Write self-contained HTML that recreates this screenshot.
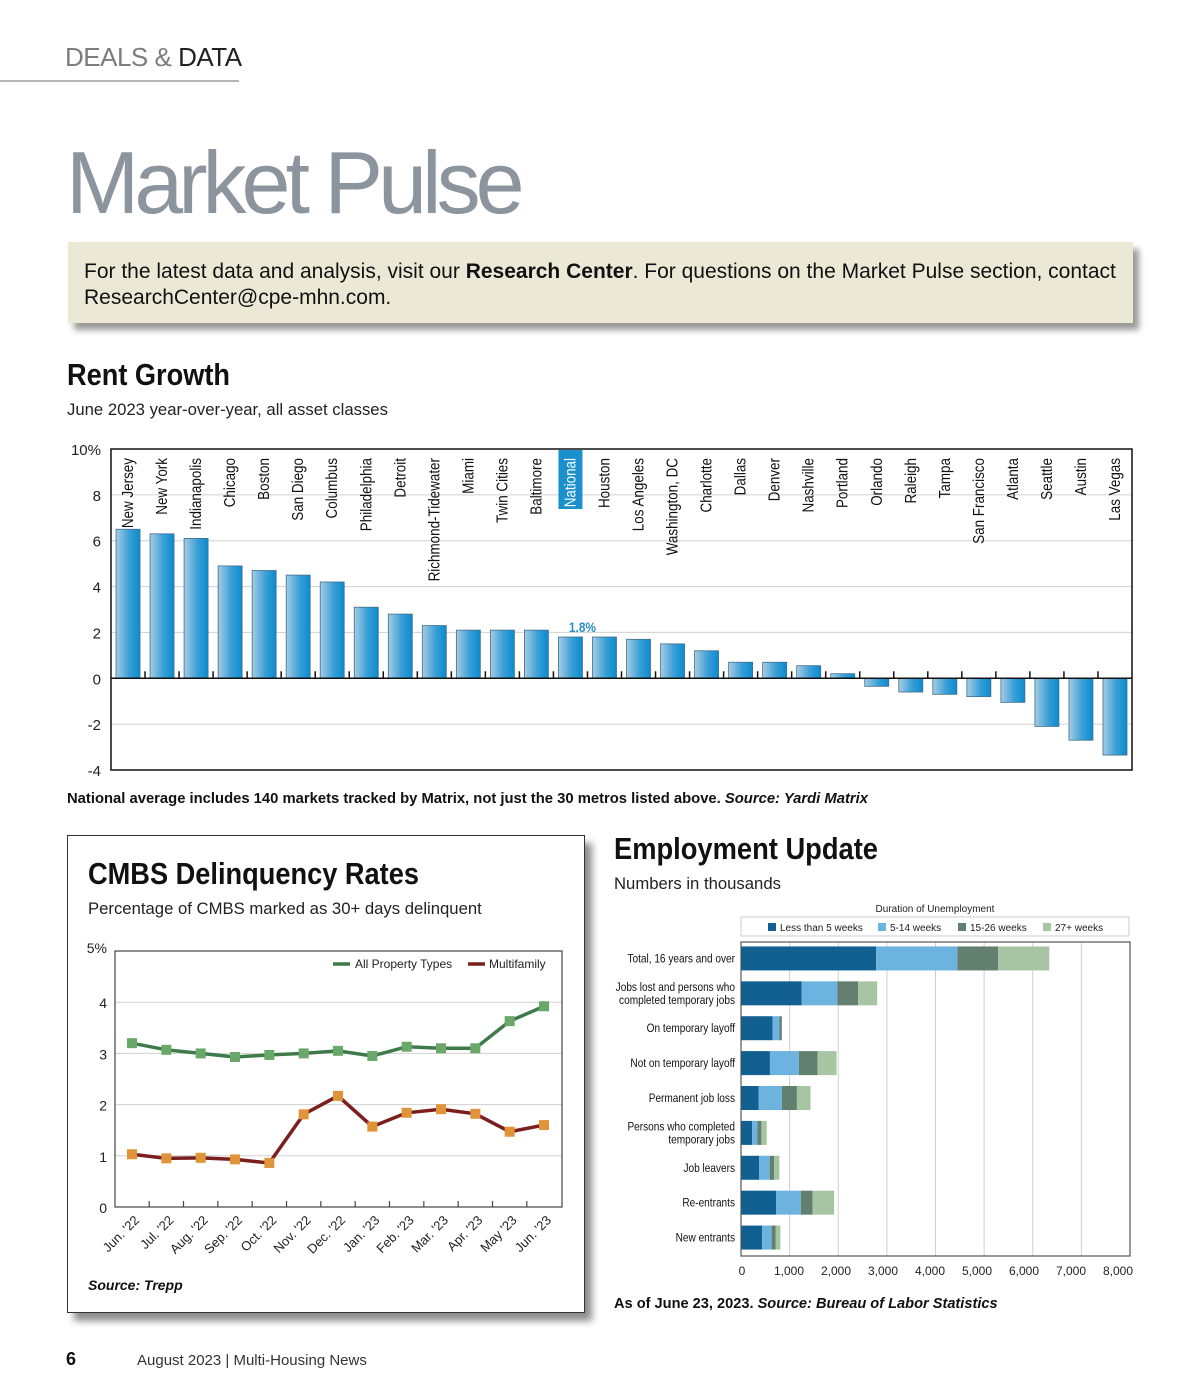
<!DOCTYPE html>
<html><head><meta charset="utf-8">
<style>
html,body{margin:0;padding:0;background:#fff;}
body{width:1200px;height:1400px;overflow:hidden;position:relative;font-family:"Liberation Sans",sans-serif;}
.abs{position:absolute;}
</style></head>
<body>
<div class="abs" style="left:65px;top:42px;font-size:26px;color:#7d7d7d;letter-spacing:-0.5px;">DEALS &amp; <span style="color:#222">DATA</span></div>
<div class="abs" style="left:0;top:80px;width:239px;height:2px;background:#b5b5b5;"></div>
<div class="abs" style="left:66px;top:132px;font-size:88px;color:#8c949e;letter-spacing:-5px;">Market Pulse</div>
<div class="abs" style="left:68px;top:242px;width:1065px;height:81px;background:#ebe9d6;box-shadow:6px 7px 6px #9a9a9a;"></div>
<div class="abs" style="left:84px;top:259px;width:1049px;font-size:21px;line-height:26px;color:#111;white-space:nowrap;">For the latest data and analysis, visit our <b>Research Center</b>. For questions on the Market Pulse section, contact<br>ResearchCenter@cpe-mhn.com.</div>

<div class="abs" style="left:67px;top:835px;width:516px;height:476px;border:1px solid #333;box-shadow:7px 8px 7px #8d8d8d;background:#fff;"></div>

<svg class="abs" style="left:0;top:0" width="1200" height="1400">
<defs>
<linearGradient id="barg" x1="0" x2="1" y1="0" y2="0"><stop offset="0" stop-color="#a8cce4"/><stop offset="0.55" stop-color="#3a9fd6"/><stop offset="1" stop-color="#0a8bcf"/></linearGradient>
</defs>
<text x="67" y="385" font-weight="bold" font-size="31" fill="#111" textLength="163" lengthAdjust="spacingAndGlyphs" font-family="Liberation Sans,sans-serif">Rent Growth</text>
<text x="67" y="415" font-size="16.7" fill="#222" font-family="Liberation Sans,sans-serif">June 2023 year-over-year, all asset classes</text>
<g id="rent"></g>
<text x="67" y="803" font-size="14.8" font-weight="bold" fill="#111" font-family="Liberation Sans,sans-serif">National average includes 140 markets tracked by Matrix, not just the 30 metros listed above. <tspan font-style="italic">Source: Yardi Matrix</tspan></text>

<text x="88" y="884" font-weight="bold" font-size="31" fill="#111" textLength="331" lengthAdjust="spacingAndGlyphs" font-family="Liberation Sans,sans-serif">CMBS Delinquency Rates</text>
<text x="88" y="914" font-size="16.7" fill="#222" font-family="Liberation Sans,sans-serif">Percentage of CMBS marked as 30+ days delinquent</text>
<g id="cmbs"></g>
<text x="88" y="1290" font-size="14" font-weight="bold" font-style="italic" fill="#111" font-family="Liberation Sans,sans-serif">Source: Trepp</text>

<text x="614" y="859" font-weight="bold" font-size="31" fill="#111" textLength="264" lengthAdjust="spacingAndGlyphs" font-family="Liberation Sans,sans-serif">Employment Update</text>
<text x="614" y="889" font-size="16.7" fill="#222" font-family="Liberation Sans,sans-serif">Numbers in thousands</text>
<g id="emp"></g>
<text x="614" y="1308" font-size="14.6" font-weight="bold" fill="#111" font-family="Liberation Sans,sans-serif">As of June 23, 2023. <tspan font-style="italic">Source: Bureau of Labor Statistics</tspan></text>

<text x="66" y="1365" font-size="18" font-weight="bold" fill="#111" font-family="Liberation Sans,sans-serif">6</text>
<text x="137" y="1365" font-size="15" fill="#333" font-family="Liberation Sans,sans-serif">August 2023  |  Multi-Housing News</text>
</svg>

<script>
// ===== Rent growth data =====
const rentCities = ["New Jersey","New York","Indianapolis","Chicago","Boston","San Diego","Columbus","Philadelphia","Detroit","Richmond-Tidewater","Miami","Twin Cities","Baltimore","National","Houston","Los Angeles","Washington, DC","Charlotte","Dallas","Denver","Nashville","Portland","Orlando","Raleigh","Tampa","San Francisco","Atlanta","Seattle","Austin","Las Vegas"];
const rentValues = [6.5,6.3,6.1,4.9,4.7,4.5,4.2,3.1,2.8,2.3,2.1,2.1,2.1,1.8,1.8,1.7,1.5,1.2,0.7,0.7,0.55,0.2,-0.35,-0.6,-0.7,-0.8,-1.05,-2.1,-2.7,-3.35];
const rentTicks = [10,8,6,4,2,0,-2,-4];
const rentTickLabels = ["10%","8","6","4","2","0","-2","-4"];

// ===== CMBS data =====
const cmbsMonths = ["Jun. '22","Jul. '22","Aug. '22","Sep. '22","Oct. '22","Nov. '22","Dec. '22","Jan. '23","Feb. '23","Mar. '23","Apr. '23","May '23","Jun. '23"];
const cmbsAll = [3.2,3.07,3.0,2.93,2.97,3.0,3.05,2.95,3.13,3.1,3.1,3.63,3.92];
const cmbsMulti = [1.03,0.95,0.96,0.93,0.86,1.81,2.17,1.57,1.84,1.91,1.82,1.47,1.6];
const cmbsTicks = [0,1,2,3,4,5];
const cmbsTickLabels = ["0","1","2","3","4","5%"];

// ===== Employment data =====
const empCategories = [["Total, 16 years and over"],["Jobs lost and persons who","completed temporary jobs"],["On temporary layoff"],["Not on temporary layoff"],["Permanent job loss"],["Persons who completed","temporary jobs"],["Job leavers"],["Re-entrants"],["New entrants"]];
const empLess5 = [2780,1245,650,595,365,230,370,720,435];
const emp5to14 = [1670,735,140,595,475,105,220,510,195];
const emp15to26 = [840,430,50,385,310,85,90,240,85];
const emp27plus = [1050,390,0,390,280,110,110,445,95];
const empSeriesNames = ["Less than 5 weeks","5-14 weeks","15-26 weeks","27+ weeks"];
const empTicks = [0,1000,2000,3000,4000,5000,6000,7000,8000];
const empTickLabels = ["0","1,000","2,000","3,000","4,000","5,000","6,000","7,000","8,000"];

const NS="http://www.w3.org/2000/svg";
function mk(tag,attrs,parent,txt){const e=document.createElementNS(NS,tag);for(const k in attrs)e.setAttribute(k,attrs[k]);if(txt!==undefined)e.textContent=txt;parent.appendChild(e);return e;}
const FONT="Liberation Sans,sans-serif";

// ---- Rent chart ----
(function(){
 const g=document.getElementById('rent');
 const L=111,R=1132,T=449,B=770,vmax=10,vmin=-4;
 const y=v=>T+(vmax-v)/(vmax-vmin)*(B-T);
 const slot=(R-L)/rentCities.length;
 const x=i=>L+slot*(i+0.5);
 rentTicks.forEach((t,i)=>{
  if(t!==10&&t!==-4&&t!==0){const ln=mk('line',{x1:L,x2:R,y1:y(t),y2:y(t),stroke:'#d0d0d0','stroke-width':1},g);
  }
  const tx=mk('text',{x:101,y:y(t)+6,'text-anchor':'end','font-size':15,fill:'#222','font-family':FONT},g,rentTickLabels[i]);
  
 });
 rentValues.forEach((v,i)=>{
  const y0=y(0),yv=y(v);
  const b=mk('rect',{x:x(i)-12,y:Math.min(y0,yv),width:24,height:Math.abs(yv-y0),fill:'url(#barg)',stroke:'#3f6f8c','stroke-width':0.8},g);
  
  
  if(i>0){const tk=mk('line',{x1:L+slot*i,x2:L+slot*i,y1:y0-7,y2:y0,stroke:'#111','stroke-width':1.5},g);
   }
  const cx=x(i)+5, ty=458;
  if(rentCities[i]==='National'){
   const hb=mk('rect',{x:x(i)-12,y:T+1,width:24,height:59,fill:'#1a90cc'},g);
   
  }
  const lb=mk('text',{x:0,y:0,transform:`translate(${cx},${ty}) rotate(-90) scale(0.84,1)`,'text-anchor':'end','font-size':16,fill:rentCities[i]==='National'?'#fff':'#111','font-family':FONT},g,rentCities[i]);
  
  if(rentCities[i]==='National'){
   const vl=mk('text',{x:0,y:0,transform:`translate(${x(i)+12},${yv-5}) scale(0.85,1)`,'text-anchor':'middle','font-size':14,'font-weight':'bold',fill:'#2a8fc8','font-family':FONT},g,v.toFixed(1)+'%');
   
  }
 });
 const ax=mk('line',{x1:L,x2:R,y1:y(0),y2:y(0),stroke:'#111','stroke-width':1.5},g);
 
 const fr=mk('rect',{x:L,y:T,width:R-L,height:B-T,fill:'none',stroke:'#111','stroke-width':1.5},g);
 
})();

// ---- CMBS chart ----
(function(){
 const g=document.getElementById('cmbs');
 const L=115,R=562,T=951,B=1207;
 const y=v=>B-v/5*(B-T);
 const step=(544-132)/(cmbsMonths.length-1);
 const x=i=>132+i*step;
 cmbsTicks.forEach((t,i)=>{
  if(t>0&&t<5){const ln=mk('line',{x1:L,x2:R,y1:y(t),y2:y(t),stroke:'#d0d0d0'},g);
   }
  const tx=mk('text',{x:107,y:y(t)+(t===5?2:6),'text-anchor':'end','font-size':14,fill:'#222','font-family':FONT},g,cmbsTickLabels[i]);
  
 });
 const fr=mk('rect',{x:L,y:T,width:R-L,height:B-T,fill:'none',stroke:'#444','stroke-width':1.2},g);
 
 cmbsMonths.forEach((m,i)=>{
  if(i>0){const tk=mk('line',{x1:x(i)-step/2,x2:x(i)-step/2,y1:B,y2:B-6,stroke:'#444','stroke-width':1.2},g);
  }
  const lb=mk('text',{x:0,y:0,transform:`translate(${x(i)+8},${B+14}) rotate(-45)`,'text-anchor':'end','font-size':13,fill:'#222','font-family':FONT},g,m);
  
 });
 function series(vals,lineC,markC,name){
  const pl=mk('polyline',{points:vals.map((v,i)=>x(i)+','+y(v)).join(' '),fill:'none',stroke:lineC,'stroke-width':3.5},g);
  
  vals.forEach((v,i)=>{const r=mk('rect',{x:x(i)-5,y:y(v)-5,width:10,height:10,fill:markC},g);
   });
 }
 series(cmbsAll,'#3e7a4a','#6aa86a','all-property-types');
 series(cmbsMulti,'#7a1e1e','#e0943a','multifamily');
 const l1=mk('line',{x1:333,x2:350,y1:964,y2:964,stroke:'#3e7a4a','stroke-width':3.5},g);
 
 const t1=mk('text',{x:355,y:968,'font-size':12,fill:'#222','font-family':FONT},g,'All Property Types');
 
 const l2=mk('line',{x1:468,x2:485,y1:964,y2:964,stroke:'#7a1e1e','stroke-width':3.5},g);
 
 const t2=mk('text',{x:489,y:968,'font-size':12,fill:'#222','font-family':FONT},g,'Multifamily');
 
})();

// ---- Employment chart ----
(function(){
 const g=document.getElementById('emp');
 const L=741,R=1130,T=942,B=1256,vmax=8000;
 const AX0=742,AX1=1118;
 const x=v=>L+v/vmax*(R-L);
 const colors=['#125f91','#6cb3e0','#637f6f','#a7c4a3'];
 const series=[empLess5,emp5to14,emp15to26,emp27plus];
 const tt=mk('text',{x:935,y:912,'text-anchor':'middle','font-size':10,fill:'#222','font-family':FONT},g,'Duration of Unemployment');
 
 const lb=mk('rect',{x:741,y:917,width:388,height:19,fill:'#fff',stroke:'#ccc'},g);
 
 const lx=[768,878,958,1043];
 empSeriesNames.forEach((n,i)=>{
  const s=mk('rect',{x:lx[i],y:923,width:8,height:8,fill:colors[i]},g);
  
  const t=mk('text',{x:lx[i]+12,y:931,'font-size':10,fill:'#222','font-family':FONT},g,n);
  
 });
 empTicks.forEach((t,i)=>{
  if(t>0&&t<vmax){const ln=mk('line',{x1:x(t),x2:x(t),y1:T,y2:B,stroke:'#cfcfcf'},g);
   }
  const tx=mk('text',{x:AX0+t/vmax*(AX1-AX0),y:1275,'text-anchor':'middle','font-size':12,fill:'#222','font-family':FONT},g,empTickLabels[i]);
  
 });
 const rowH=(B-T)/empCategories.length;
 empCategories.forEach((c,r)=>{
  const cy=T+rowH*(r+0.5)-1;
  let acc=0;
  series.forEach((s,k)=>{
   const w=s[r];if(w<=0)return;
   const rc=mk('rect',{x:x(acc),y:cy-12,width:x(acc+w)-x(acc),height:24,fill:colors[k]},g);
   
   acc+=w;
  });
  c.forEach((line,li)=>{
   const ty=cy+4+(c.length===2?(li===0?-6.5:6.5):0);
   const t=mk('text',{x:0,y:0,transform:`translate(735,${ty}) scale(0.84,1)`,'text-anchor':'end','font-size':12,fill:'#111','font-family':FONT},g,line);
   
  });
 });
 const fr=mk('rect',{x:L,y:T,width:R-L,height:B-T,fill:'none',stroke:'#555','stroke-width':1.2},g);
 
})();
</script>
</body></html>
